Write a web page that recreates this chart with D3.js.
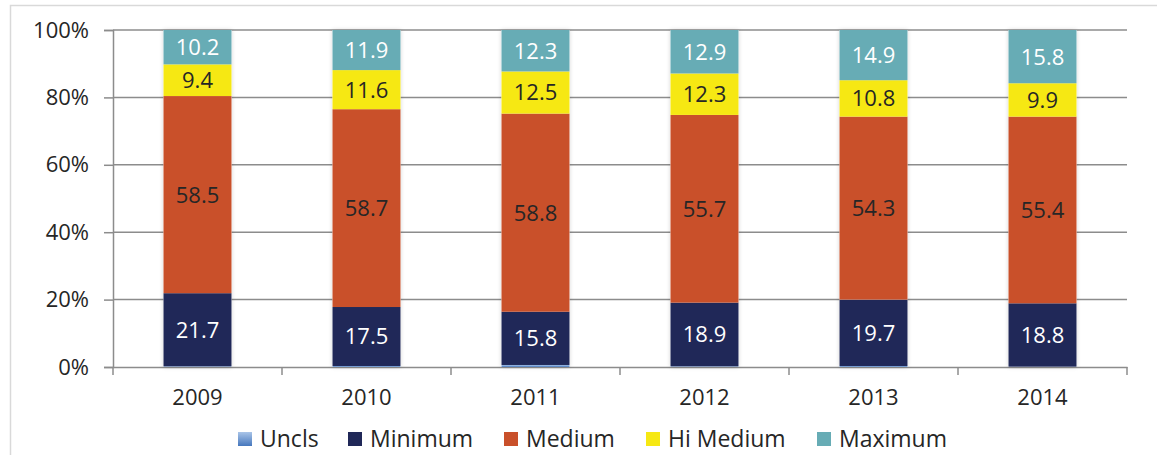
<!DOCTYPE html>
<html>
<head>
<meta charset="utf-8">
<script src="https://cdn.jsdelivr.net/npm/d3@7"></script>
<style>
  body { margin: 0; background: #fff; }
  text { font-family: "Open Sans", sans-serif; }
</style>
</head>
<body>
<div class="plot"></div>
<script>
const years = ["2009", "2010", "2011", "2012", "2013", "2014"];
const uncls = [0.2, 0.3, 0.6, 0.2, 0.3, 0.1];
const minimum = [21.7, 17.5, 15.8, 18.9, 19.7, 18.8];
const medium = [58.5, 58.7, 58.8, 55.7, 54.3, 55.4];
const hiMedium = [9.4, 11.6, 12.5, 12.3, 10.8, 9.9];
const maximum = [10.2, 11.9, 12.3, 12.9, 14.9, 15.8];
const seriesNames = ["Uncls", "Minimum", "Medium", "Hi Medium", "Maximum"];
const yTicks = [0, 20, 40, 60, 80, 100];

const seriesValues = [uncls, minimum, medium, hiMedium, maximum];
const colors = ["url(#unclsGrad)", "#202858", "#c9502a", "#f6e813", "#67acb5"];
const labelColors = [null, "#ffffff", "#262626", "#262626", "#ffffff"];

const svg = d3
    .select(".plot")
    .append("svg")
    .attr("width", 1157)
    .attr("height", 455);

const defs = svg.append("defs");
const grad = defs.append("linearGradient")
    .attr("id", "unclsGrad")
    .attr("x1", 0).attr("y1", 0).attr("x2", 0).attr("y2", 1);
grad.append("stop").attr("offset", "0%").attr("stop-color", "#a9c4e8");
grad.append("stop").attr("offset", "100%").attr("stop-color", "#4677bd");

const shadow = defs.append("filter").attr("id", "shadow")
    .attr("x", "-20%").attr("y", "-5%").attr("width", "140%").attr("height", "110%");
shadow.append("feDropShadow")
    .attr("dx", 0).attr("dy", 0).attr("stdDeviation", 2)
    .attr("flood-color", "#000").attr("flood-opacity", 0.18);

// chart frame
svg.append("rect")
    .attr("x", 10.5).attr("y", 5.5)
    .attr("width", 1300).attr("height", 600)
    .attr("fill", "none")
    .attr("stroke", "#d9d9d9")
    .attr("stroke-width", 1.5);

const plotLeft = 113, plotRight = 1127, plotTop = 30, plotBottom = 367;

const x = d3.scaleBand().domain(years).range([plotLeft, plotRight]).paddingInner(0).paddingOuter(0);
const y = d3.scaleLinear().domain([0, 100]).range([plotBottom, plotTop]);

// gridlines
svg.append("g")
    .selectAll("line")
    .data(yTicks.filter((d) => d > 0))
    .join("line")
    .attr("x1", plotLeft).attr("x2", plotRight)
    .attr("y1", (d) => y(d)).attr("y2", (d) => y(d))
    .attr("stroke", "#8c8c8c")
    .attr("stroke-width", 1.5);

// y axis
const yAxis = svg.append("g")
    .attr("transform", `translate(${plotLeft}, 0)`)
    .call(d3.axisLeft(y).tickValues(yTicks).tickSize(9).tickPadding(15).tickFormat((d) => d + "%"));
yAxis.selectAll("path, line").attr("stroke", "#8c8c8c").attr("stroke-width", 1.5);
yAxis.selectAll("text")
    .style("font-size", "22px")
    .attr("fill", "#262626");

// x axis
const xAxis = svg.append("g")
    .attr("transform", `translate(0, ${plotBottom})`)
    .call(d3.axisBottom(x).tickSize(0).tickPadding(22));
xAxis.selectAll("path").attr("stroke", "#8c8c8c").attr("stroke-width", 1.5);
xAxis.selectAll("text")
    .style("font-size", "22px")
    .attr("fill", "#262626");
xAxis.append("g")
    .selectAll("line")
    .data(d3.range(years.length + 1))
    .join("line")
    .attr("x1", (i) => plotLeft + i * x.step())
    .attr("x2", (i) => plotLeft + i * x.step())
    .attr("y1", 0).attr("y2", 8)
    .attr("stroke", "#8c8c8c")
    .attr("stroke-width", 1.5);

// stacked bars
const table = years.map((yr, i) => {
    const row = { year: yr };
    seriesNames.forEach((s, k) => (row[s] = seriesValues[k][i]));
    return row;
});
const stacked = d3.stack().keys(seriesNames)(table);

const barW = 68;
const bars = svg.append("g");
bars.selectAll("rect.shadowbox")
    .data(table)
    .join("rect")
    .attr("class", "shadowbox")
    .attr("x", (d) => x(d.year) + x.bandwidth() / 2 - barW / 2)
    .attr("width", barW)
    .attr("y", y(100))
    .attr("height", y(0) - y(100))
    .attr("fill", "#fff")
    .attr("filter", "url(#shadow)");

stacked.forEach((layer, k) => {
    bars.append("g")
        .selectAll("rect")
        .data(layer)
        .join("rect")
        .attr("x", (d) => x(d.data.year) + x.bandwidth() / 2 - barW / 2)
        .attr("width", barW)
        .attr("y", (d) => y(d[1]))
        .attr("height", (d) => y(d[0]) - y(d[1]))
        .attr("fill", colors[k]);

    if (labelColors[k]) {
        bars.append("g")
            .selectAll("text")
            .data(layer)
            .join("text")
            .attr("x", (d) => x(d.data.year) + x.bandwidth() / 2)
            .attr("y", (d) => (y(d[0]) + y(d[1])) / 2)
            .attr("dy", "0.36em")
            .attr("text-anchor", "middle")
            .style("font-size", "22px")
            .attr("fill", labelColors[k])
            .text((d) => d.data[seriesNames[k]].toFixed(1));
    }
});

// legend
const legendX = [238, 348, 504, 646, 817];
const legend = svg.append("g")
    .selectAll("g")
    .data(seriesNames)
    .join("g")
    .attr("transform", (d, i) => `translate(${legendX[i]}, 432)`);
legend.append("rect")
    .attr("width", 14)
    .attr("height", 14)
    .attr("fill", (d, i) => colors[i]);
legend.append("text")
    .attr("x", 22)
    .attr("y", 7)
    .attr("dy", "0.36em")
    .style("font-size", "23px")
    .attr("fill", "#262626")
    .text((d) => d);
</script>
</body>
</html>
